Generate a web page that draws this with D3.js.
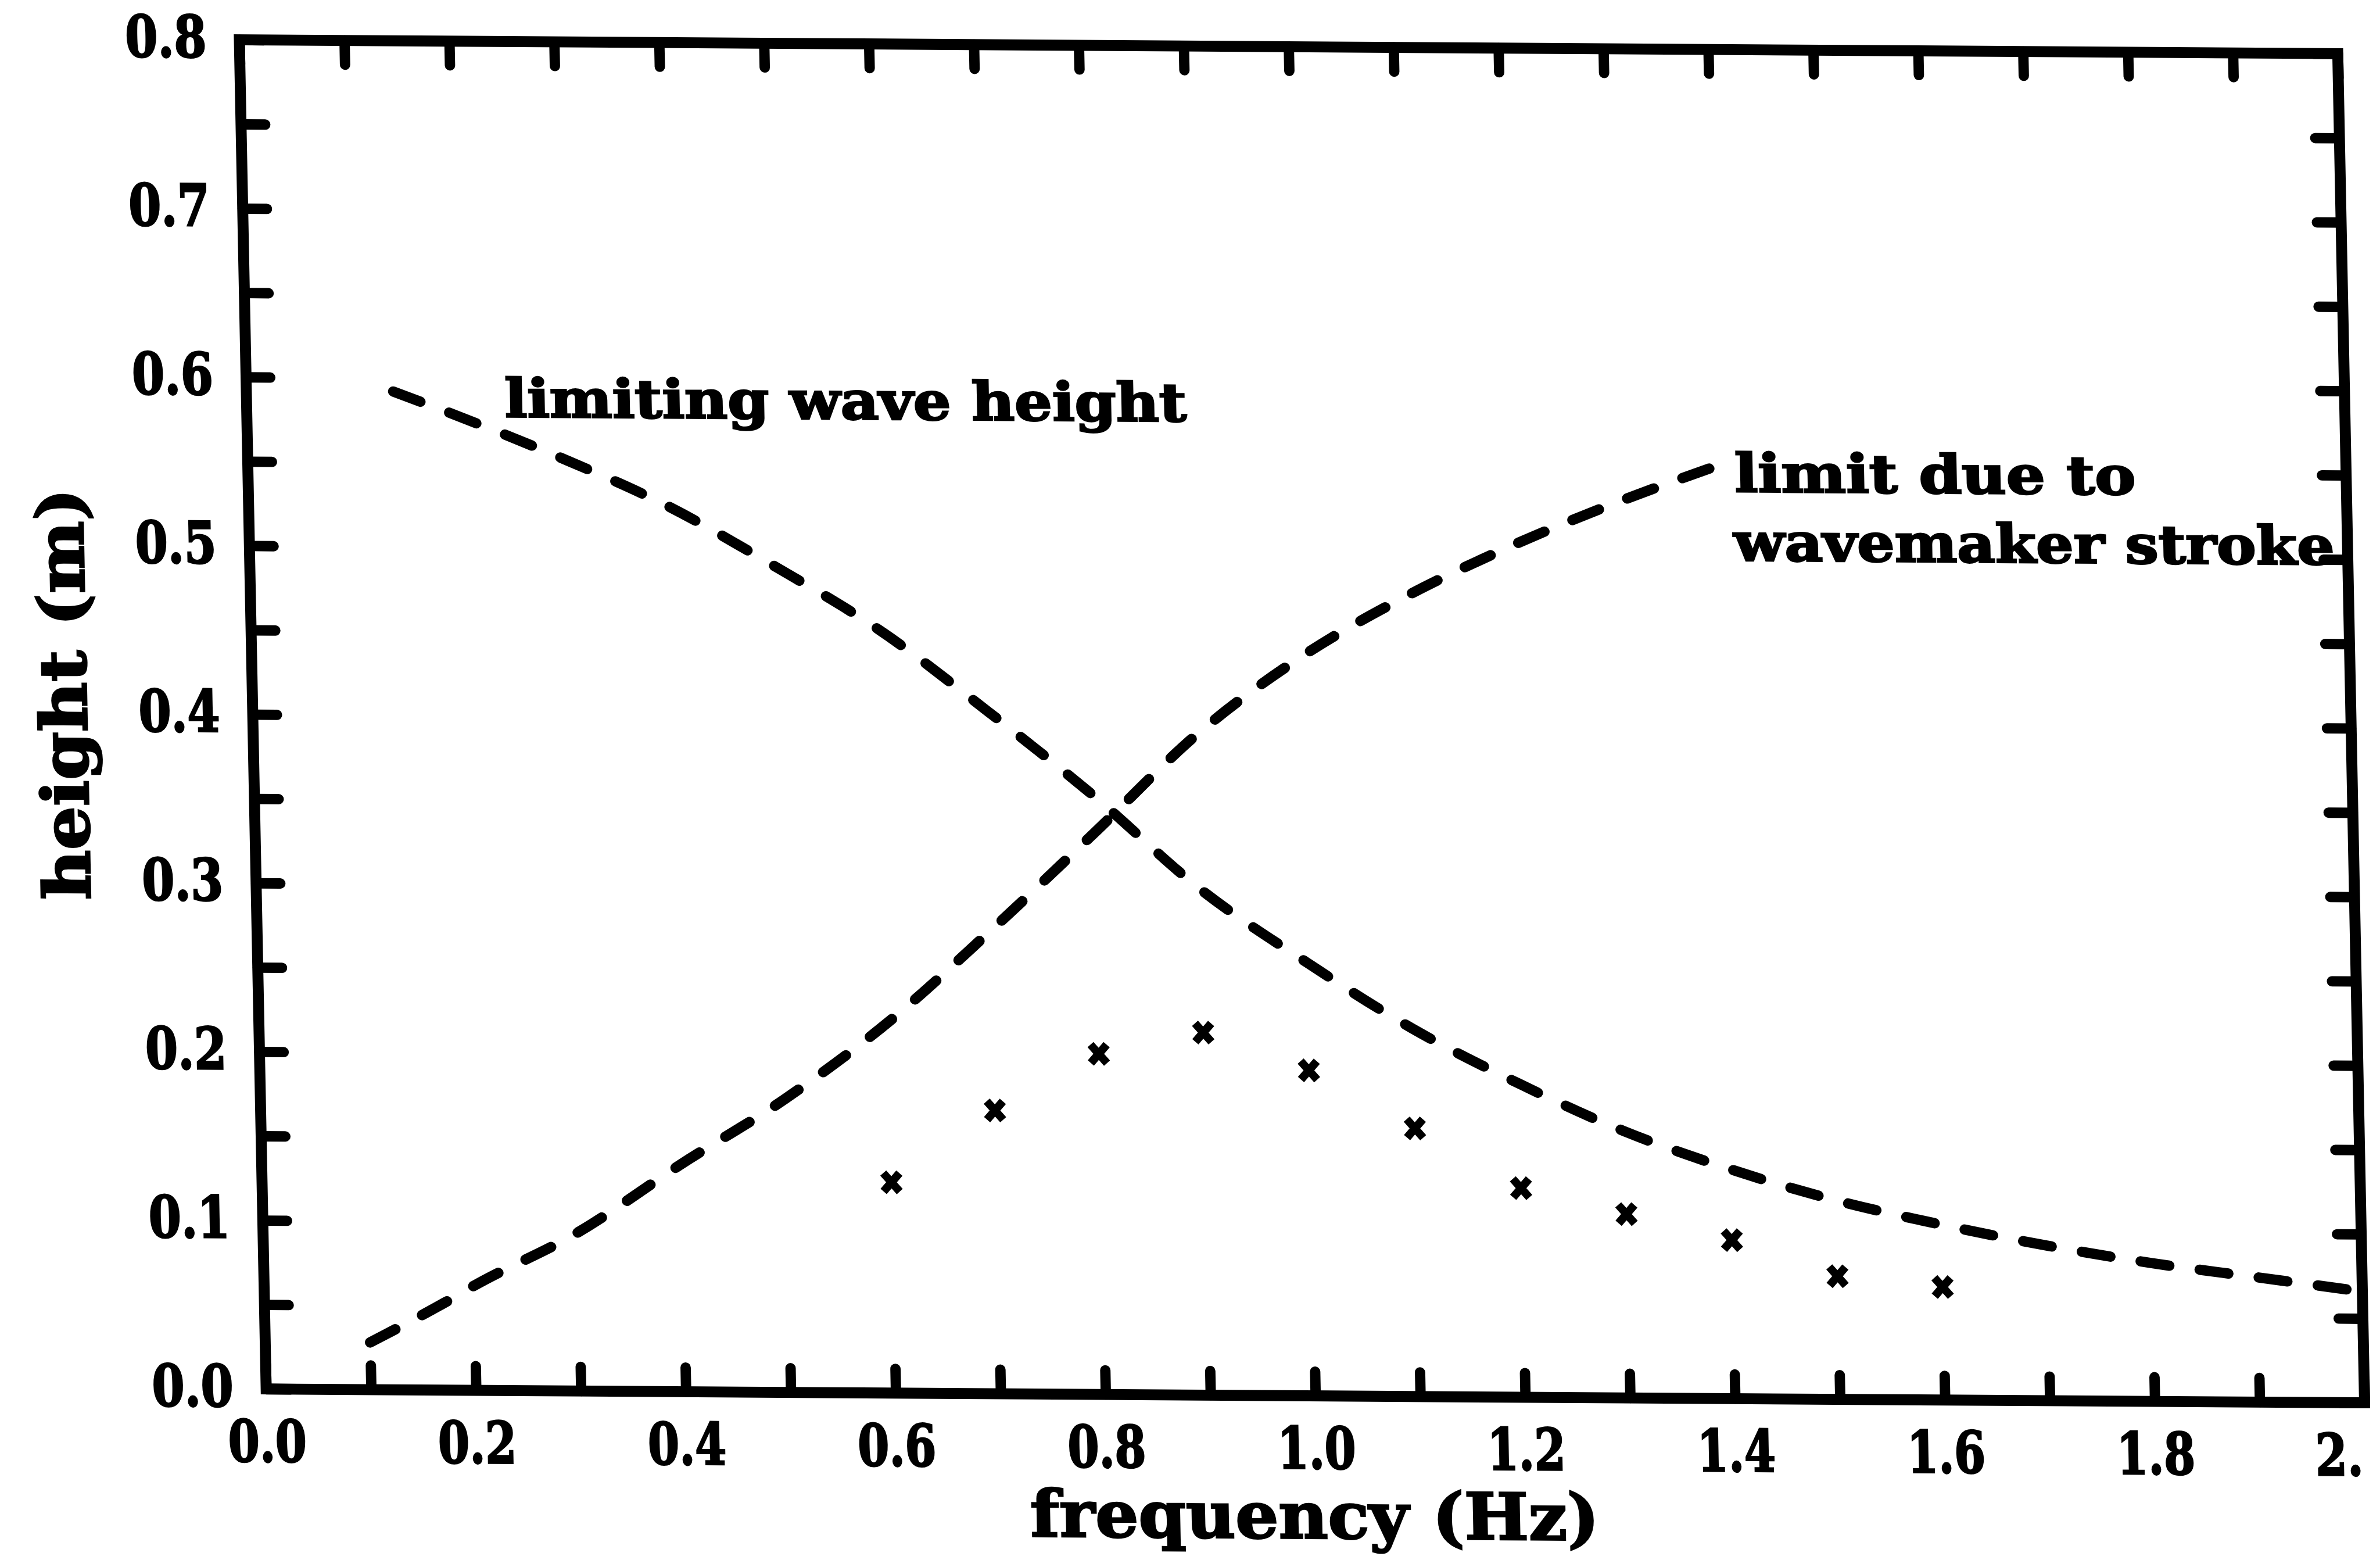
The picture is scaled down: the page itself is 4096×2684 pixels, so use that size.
<!DOCTYPE html>
<html>
<head>
<meta charset="utf-8">
<script src="https://cdn.jsdelivr.net/npm/d3@7"></script>
<style>
  html, body { margin: 0; padding: 0; background: #fff; overflow: hidden; }
</style>
</head>
<body>
<div id="chart"></div>
<script>
// values
const xTicks = [0.0, 0.1, 0.2, 0.3, 0.4, 0.5, 0.6, 0.7, 0.8, 0.9, 1.0, 1.1, 1.2, 1.3, 1.4, 1.5, 1.6, 1.7, 1.8, 1.9, 2.0];
const xTickLabels = ["0.0", "0.2", "0.4", "0.6", "0.8", "1.0", "1.2", "1.4", "1.6", "1.8", "2."];
const yTicks = [0.0, 0.05, 0.1, 0.15, 0.2, 0.25, 0.3, 0.35, 0.4, 0.45, 0.5, 0.55, 0.6, 0.65, 0.7, 0.75, 0.8];
const yTickLabels = ["0.0", "0.1", "0.2", "0.3", "0.4", "0.5", "0.6", "0.7", "0.8"];

// limiting wave height (dashed, falling)
const breakFreq = [0.14, 0.2, 0.3, 0.4, 0.5, 0.6, 0.7, 0.8, 0.9, 1.0, 1.1, 1.2, 1.3, 1.4, 1.5, 1.6, 1.7, 1.8, 1.9, 2.0];
const breakHeight = [0.592, 0.578, 0.553, 0.525, 0.49, 0.452, 0.405, 0.355, 0.30, 0.257, 0.218, 0.186, 0.158, 0.136, 0.118, 0.104, 0.092, 0.082, 0.074, 0.066];

// limit due to wavemaker stroke (dashed, rising)
const strokeFreq = [0.1, 0.175, 0.2, 0.3, 0.4, 0.5, 0.6, 0.7, 0.8, 0.9, 1.0, 1.1, 1.2, 1.3, 1.4];
const strokeHeight = [0.028, 0.053, 0.062, 0.094, 0.135, 0.174, 0.22, 0.275, 0.333, 0.392, 0.438, 0.474, 0.504, 0.53, 0.553];

// measured heights (x marks)
const obsFreq = [0.6, 0.7, 0.8, 0.9, 1.0, 1.1, 1.2, 1.3, 1.4, 1.5, 1.6];
const obsHeight = [0.125, 0.168, 0.202, 0.215, 0.193, 0.159, 0.124, 0.109, 0.094, 0.073, 0.067];

const W = 3640.5, H = 2340;
const font = "'DejaVu Serif', 'Liberation Serif', serif";

const svg = d3.select("#chart").append("svg")
  .attr("width", 4096).attr("height", 2684)
  .style("display", "block");

// the scan is a bit sheared, so the whole plot sits in a skewed group
const g = svg.append("g")
  .attr("transform", "scale(0.992) matrix(1,0.006593,0.019872,1,415.25,69)");

const x = d3.scaleLinear().domain([0, 2]).range([0, W]);
const y = d3.scaleLinear().domain([0, 0.8]).range([H, 0]);

const tickLen = 42;

function styleAxis(sel) {
  sel.select(".domain").remove();
  sel.selectAll(".tick line")
    .attr("stroke", "#000").attr("stroke-width", 18).attr("stroke-linecap", "round");
  sel.attr("font-family", font).attr("font-weight", "bold");
}

// bottom axis with labels
const axB = g.append("g").attr("transform", `translate(0,${H})`)
  .call(d3.axisBottom(x).tickValues(xTicks).tickSizeInner(-tickLen).tickSizeOuter(0)
    .tickPadding(55).tickFormat((d, i) => i % 2 === 0 ? xTickLabels[i / 2] : ""));
styleAxis(axB);
axB.selectAll("text").attr("font-size", 100).attr("fill", "#000")
  .attr("stroke", "#000").attr("stroke-width", 3)
  .filter(function () { return this.textContent !== ""; })
  .attr("textLength", function () { return this.textContent.length === 3 ? 136 : 83; })
  .attr("lengthAdjust", "spacingAndGlyphs");
// the last label is cut short in the scan; keep it inside the page
axB.selectAll("text").filter(function () { return this.textContent === "2."; })
  .attr("x", -46);

// left axis with labels
const axL = g.append("g")
  .call(d3.axisLeft(y).tickValues(yTicks).tickSizeInner(-tickLen).tickSizeOuter(0)
    .tickPadding(57).tickFormat((d, i) => i % 2 === 0 ? yTickLabels[i / 2] : ""));
styleAxis(axL);
axL.selectAll("text").attr("font-size", 100).attr("fill", "#000").attr("dy", "0.3em")
  .attr("stroke", "#000").attr("stroke-width", 3)
  .filter(function () { return this.textContent !== ""; })
  .attr("textLength", 141).attr("lengthAdjust", "spacingAndGlyphs");

// mirrored ticks top and right
const axT = g.append("g")
  .call(d3.axisTop(x).tickValues(xTicks).tickSizeInner(-tickLen).tickSizeOuter(0).tickFormat(() => ""));
styleAxis(axT);
const axR = g.append("g").attr("transform", `translate(${W},0)`)
  .call(d3.axisRight(y).tickValues(yTicks).tickSizeInner(-tickLen).tickSizeOuter(0).tickFormat(() => ""));
styleAxis(axR);

// frame
g.append("rect")
  .attr("x", x(0)).attr("y", y(0.8))
  .attr("width", x(2) - x(0)).attr("height", y(0) - y(0.8))
  .attr("fill", "none").attr("stroke", "#000").attr("stroke-width", 19);

// dashed limit curves
const line = d3.line().x(d => x(d[0])).y(d => y(d[1])).curve(d3.curveMonotoneX);

g.append("path").datum(d3.zip(breakFreq, breakHeight))
  .attr("d", line).attr("fill", "none").attr("stroke", "#000")
  .attr("stroke-width", 18).attr("stroke-linecap", "round").attr("stroke-dasharray", "50 53");

g.append("path").datum(d3.zip(strokeFreq, strokeHeight))
  .attr("d", line).attr("fill", "none").attr("stroke", "#000")
  .attr("stroke-width", 18).attr("stroke-linecap", "round").attr("stroke-dasharray", "50 53");

// x markers
g.selectAll(".obs").data(d3.zip(obsFreq, obsHeight)).join("path")
  .attr("class", "obs")
  .attr("transform", d => `translate(${x(d[0])},${y(d[1])})`)
  .attr("d", "M-14,-16L14,16M14,-16L-14,16")
  .attr("stroke", "#000").attr("stroke-width", 14).attr("fill", "none");

// curve labels
const notes = g.append("g").attr("font-family", font).attr("font-weight", "bold")
  .attr("font-size", 92).attr("fill", "#000").attr("stroke", "#000").attr("stroke-width", 3);
notes.append("text").attr("x", x(0.246)).attr("y", y(0.5774))
  .attr("textLength", 1183).attr("lengthAdjust", "spacingAndGlyphs")
  .text("limiting wave height");
notes.append("text").attr("x", x(1.417)).attr("y", y(0.5378))
  .attr("textLength", 696).attr("lengthAdjust", "spacingAndGlyphs")
  .text("limit due to");
notes.append("text").attr("x", x(1.415)).attr("y", y(0.497))
  .attr("textLength", 1042).attr("lengthAdjust", "spacingAndGlyphs")
  .text("wavemaker stroke");

// axis titles
const titles = g.append("g").attr("font-family", font).attr("font-weight", "bold")
  .attr("font-size", 112).attr("fill", "#000").attr("stroke", "#000").attr("stroke-width", 3)
  .attr("text-anchor", "middle");
titles.append("text").attr("x", 1815).attr("y", H + 247)
  .attr("textLength", 987).attr("lengthAdjust", "spacingAndGlyphs")
  .text("frequency (Hz)");
titles.append("text").attr("transform", "translate(-288,1137) rotate(-90)")
  .attr("textLength", 714).attr("lengthAdjust", "spacingAndGlyphs")
  .text("height (m)");
</script>
</body>
</html>
